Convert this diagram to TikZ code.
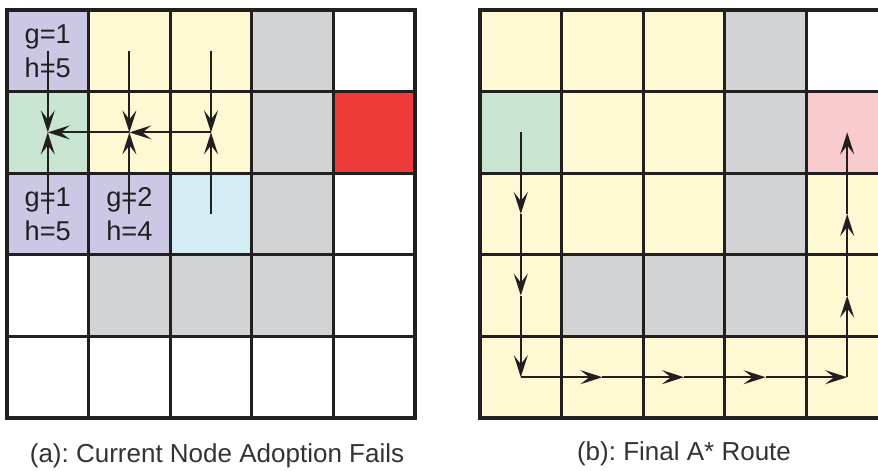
\documentclass[tikz,border=0pt]{standalone}
\usepackage{fontspec}
\setmainfont{Liberation Sans}
\usepackage{xcolor}
\usepackage{tikz}
\usetikzlibrary{arrows.meta, positioning}
\definecolor{gridLine}{HTML}{231F20}
\definecolor{visitPurple}{HTML}{CBC8E6}
\definecolor{openYellow}{HTML}{FEF9D3}
\definecolor{startGreen}{HTML}{C7E5D0}
\definecolor{wallGray}{HTML}{D1D3D4}
\definecolor{goalRed}{HTML}{EF3B3A}
\definecolor{currentBlue}{HTML}{D2ECF3}
\definecolor{goalPink}{HTML}{F9CBCD}
\definecolor{captionGray}{HTML}{333333}
\frenchspacing

\begin{document}
\begin{tikzpicture}[
    x=0.5pt, y=-0.5pt,
    cell/.style={rectangle, draw=gridLine, line width=1.6pt, minimum size=40.8pt,
                 inner sep=0pt, outer sep=0pt},
    cost/.style={align=center, font=\fontsize{13.6}{17}\selectfont, text=gridLine, inner sep=0pt},
    arrow/.style={-{Stealth[length=11pt, width=7pt, inset=4.5pt]}, line width=1pt, color=gridLine},
    caption/.style={font=\fontsize{13}{15}\selectfont, text=captionGray},
]
\useasboundingbox (0,0) rectangle (878,471);
\clip (0,0) rectangle (878,471);

% Grid (a)
\foreach \r/\colors in {0/{visitPurple,openYellow,openYellow,wallGray,white},
                        1/{startGreen,openYellow,openYellow,wallGray,goalRed},
                        2/{visitPurple,visitPurple,currentBlue,wallGray,white},
                        3/{white,wallGray,wallGray,wallGray,white},
                        4/{white,white,white,white,white}}
  \foreach \col [count=\c from 0] in \colors
    \node[cell, fill=\col] (a-\r-\c) at (47.8+81.6*\c, 50.8+81.6*\r) {};

% Grid (b)
\foreach \r/\colors in {0/{openYellow,openYellow,openYellow,wallGray,white},
                        1/{startGreen,openYellow,openYellow,wallGray,goalPink},
                        2/{openYellow,openYellow,openYellow,wallGray,openYellow},
                        3/{openYellow,wallGray,wallGray,wallGray,openYellow},
                        4/{openYellow,openYellow,openYellow,openYellow,openYellow}}
  \foreach \col [count=\c from 0] in \colors
    \node[cell, fill=\col] (b-\r-\c) at (520.8+81.6*\c, 50.8+81.6*\r) {};

% Costs
\node[cost] (costTop) at (a-0-0) {g=1\\h=5};
\node[cost] (costLeft) at (a-2-0) {g=1\\h=5};
\node[cost] (costMid) at (a-2-1) {g=2\\h=4};

% Adoption attempts
\draw[arrow] (a-0-0.center) -- (a-1-0.center);
\draw[arrow] (a-2-0.center) -- (a-1-0.center);
\draw[arrow] (a-1-1.center) -- (a-1-0.center);
\draw[arrow] (a-0-1.center) -- (a-1-1.center);
\draw[arrow] (a-2-1.center) -- (a-1-1.center);
\draw[arrow] (a-1-2.center) -- (a-1-1.center);
\draw[arrow] (a-0-2.center) -- (a-1-2.center);
\draw[arrow] (a-2-2.center) -- (a-1-2.center);

% Final route
\foreach \from/\to in {1-0/2-0, 2-0/3-0, 3-0/4-0, 4-0/4-1, 4-1/4-2, 4-2/4-3,
                       4-3/4-4, 4-4/3-4, 3-4/2-4, 2-4/1-4}
  \draw[arrow] (b-\from.center) -- (b-\to.center);

% Captions
\node[caption] (capA) at (217,456) {(a): Current Node Adoption Fails};
\node[caption] (capB) at (684,454) {(b): Final A* Route};

\end{tikzpicture}
\end{document}
